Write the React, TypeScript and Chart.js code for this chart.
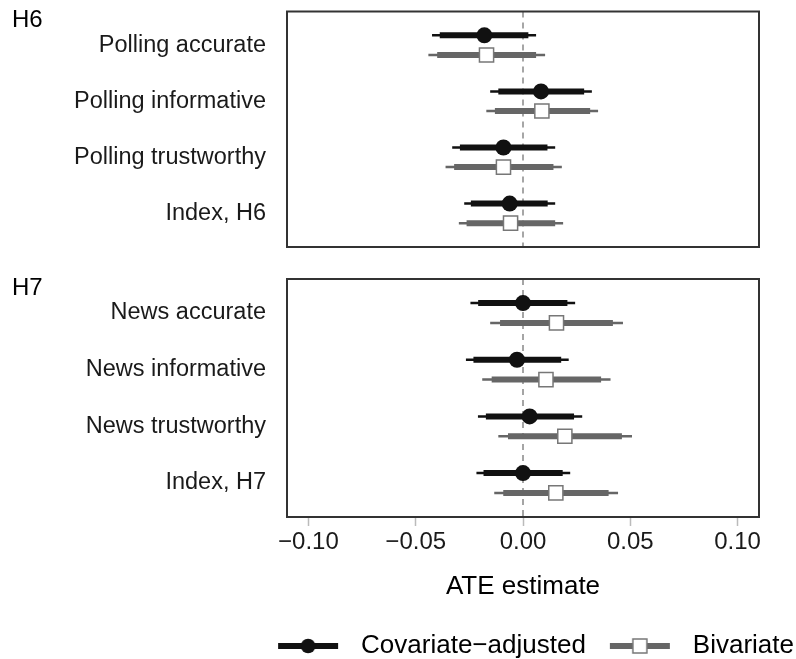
import React, { useEffect, useRef } from "react";
import { Chart, registerables } from "chart.js";
Chart.register(...registerables);

// ---------- data ----------
const tickValues = [-0.1, -0.05, 0, 0.05, 0.1];
const tickLabels = ["\u22120.10", "\u22120.05", "0.00", "0.05", "0.10"];
const xMin = -0.11;
const xMax = 0.11;
const refValue = 0;
const seriesNames = ["Covariate\u2212adjusted", "Bivariate"];
const xTitle = "ATE estimate";

const h6Title = "H6";
const h6Categories = ["Polling accurate", "Polling informative", "Polling trustworthy", "Index, H6"];
const h6CovEst = [-0.018, 0.0084, -0.0091, -0.0062];
const h6CovLo95 = [-0.0424, -0.0153, -0.033, -0.0274];
const h6CovHi95 = [0.0061, 0.0321, 0.015, 0.015];
const h6CovLo90 = [-0.0388, -0.0115, -0.0294, -0.0243];
const h6CovHi90 = [0.0025, 0.0285, 0.0114, 0.0115];
const h6BivEst = [-0.017, 0.0088, -0.0091, -0.0058];
const h6BivLo95 = [-0.0441, -0.0171, -0.0361, -0.0299];
const h6BivHi95 = [0.0103, 0.035, 0.0181, 0.0187];
const h6BivLo90 = [-0.04, -0.0131, -0.0321, -0.0263];
const h6BivHi90 = [0.0061, 0.0313, 0.0142, 0.015];

const h7Title = "H7";
const h7Categories = ["News accurate", "News informative", "News trustworthy", "Index, H7"];
const h7CovEst = [0.0, -0.0028, 0.0031, 0.0];
const h7CovLo95 = [-0.0245, -0.0266, -0.021, -0.0217];
const h7CovHi95 = [0.0243, 0.0213, 0.0276, 0.022];
const h7CovLo90 = [-0.0209, -0.0231, -0.0173, -0.0184];
const h7CovHi90 = [0.0207, 0.0178, 0.0238, 0.0185];
const h7BivEst = [0.0156, 0.0107, 0.0195, 0.0153];
const h7BivLo95 = [-0.0153, -0.019, -0.0115, -0.0134];
const h7BivHi95 = [0.0466, 0.0408, 0.0508, 0.0443];
const h7BivLo90 = [-0.0107, -0.0146, -0.007, -0.0092];
const h7BivHi90 = [0.0419, 0.0364, 0.0461, 0.0399];

// ---------- style ----------
const FONT = "'Liberation Sans', Arial, Helvetica, sans-serif";
const BLACK = "#111111";
const GREY = "#666666";
const SQUARE_EDGE = "#777777";
const Y_MIN = 0.4;
const Y_MAX = 4.6;
const OFFSET = 0.175;

type PanelData = {
  title: string;
  categories: string[];
  covEst: number[]; covLo95: number[]; covHi95: number[]; covLo90: number[]; covHi90: number[];
  bivEst: number[]; bivLo95: number[]; bivHi95: number[]; bivLo90: number[]; bivHi90: number[];
};

const panels: PanelData[] = [
  { title: h6Title, categories: h6Categories, covEst: h6CovEst, covLo95: h6CovLo95, covHi95: h6CovHi95, covLo90: h6CovLo90, covHi90: h6CovHi90, bivEst: h6BivEst, bivLo95: h6BivLo95, bivHi95: h6BivHi95, bivLo90: h6BivLo90, bivHi90: h6BivHi90 },
  { title: h7Title, categories: h7Categories, covEst: h7CovEst, covLo95: h7CovLo95, covHi95: h7CovHi95, covLo90: h7CovLo90, covHi90: h7CovHi90, bivEst: h7BivEst, bivLo95: h7BivLo95, bivHi95: h7BivHi95, bivLo90: h7BivLo90, bivHi90: h7BivHi90 },
];

function segments(lo: number[], hi: number[], off: number) {
  const out: any[] = [];
  lo.forEach((l, i) => {
    const y = i + 1 + off;
    out.push({ x: l, y }, { x: hi[i], y }, { x: null, y: null });
  });
  return out;
}
function points(est: number[], off: number) {
  return est.map((v, i) => ({ x: v, y: i + 1 + off }));
}

const ICON_L = 22, ICON_LEN = 60, ICON_R = 10, ICON_H = 22;
function makeIcon(kind: "cov" | "biv") {
  const c = document.createElement("canvas");
  c.width = ICON_L + ICON_LEN + ICON_R;
  c.height = ICON_H;
  const ctx = c.getContext("2d")!;
  const cy = ICON_H / 2;
  ctx.lineCap = "butt";
  ctx.lineWidth = 6;
  ctx.strokeStyle = kind === "cov" ? BLACK : GREY;
  ctx.beginPath();
  ctx.moveTo(ICON_L, cy);
  ctx.lineTo(ICON_L + ICON_LEN, cy);
  ctx.stroke();
  const cx = ICON_L + ICON_LEN / 2;
  if (kind === "cov") {
    ctx.fillStyle = BLACK;
    ctx.beginPath();
    ctx.arc(cx, cy, 7.3, 0, Math.PI * 2);
    ctx.fill();
  } else {
    ctx.fillStyle = "#ffffff";
    ctx.fillRect(cx - 7, cy - 7, 14, 14);
    ctx.lineWidth = 1.5;
    ctx.strokeStyle = SQUARE_EDGE;
    ctx.strokeRect(cx - 7, cy - 7, 14, 14);
  }
  return c;
}

const framePlugin = {
  id: "frame",
  afterDraw(chart: any) {
    const { ctx, chartArea: a } = chart;
    ctx.save();
    ctx.strokeStyle = "#333333";
    ctx.lineWidth = 2;
    ctx.strokeRect(a.left, a.top, a.right - a.left, a.bottom - a.top);
    const t = chart.options.plugins.panelLabel?.text;
    if (t) {
      ctx.fillStyle = "#000000";
      ctx.font = `24px ${FONT}`;
      ctx.textAlign = "left";
      ctx.textBaseline = "middle";
      ctx.fillText(t, 12, a.top + 9);
    }
    ctx.restore();
  },
};

function noPad(s: any) {
  s.paddingTop = 0;
  s.paddingBottom = 0;
  s.paddingLeft = 0;
  s.paddingRight = 0;
}

function buildConfig(p: PanelData, bottom: boolean): any {
  const datasets: any[] = [
    {
      label: "ref",
      data: [{ x: refValue, y: Y_MIN }, { x: refValue, y: Y_MAX }],
      showLine: true, borderColor: "#888888", borderWidth: 1.5, borderDash: [6, 5],
      pointRadius: 0, order: 10,
    },
    { label: "cov95", data: segments(p.covLo95, p.covHi95, -OFFSET), showLine: true, borderColor: BLACK, borderWidth: 2.5, pointRadius: 0, order: 6, spanGaps: false },
    { label: "cov90", data: segments(p.covLo90, p.covHi90, -OFFSET), showLine: true, borderColor: BLACK, borderWidth: 6, pointRadius: 0, order: 5, spanGaps: false },
    { label: "biv95", data: segments(p.bivLo95, p.bivHi95, OFFSET), showLine: true, borderColor: GREY, borderWidth: 2.5, pointRadius: 0, order: 6, spanGaps: false },
    { label: "biv90", data: segments(p.bivLo90, p.bivHi90, OFFSET), showLine: true, borderColor: GREY, borderWidth: 6, pointRadius: 0, order: 5, spanGaps: false },
    { label: seriesNames[0], data: points(p.covEst, -OFFSET), pointStyle: "circle", pointRadius: 8, backgroundColor: BLACK, borderColor: BLACK, borderWidth: 0, order: 1 },
    { label: seriesNames[1], data: points(p.bivEst, OFFSET), pointStyle: "rect", pointRadius: 10, backgroundColor: "#ffffff", borderColor: SQUARE_EDGE, borderWidth: 1.5, order: 1 },
  ];
  const tickFont = { family: FONT, size: 24 };
  const labelFont = { family: FONT, size: 23.5 };
  const bigFont = { family: FONT, size: 26 };
  const scales: any = {
    x: {
      type: "linear",
      min: xMin,
      max: xMax,
      display: bottom,
      afterBuildTicks: (s: any) => { s.ticks = tickValues.map((v) => ({ value: v })); },
      ticks: { font: tickFont, color: "#1a1a1a", padding: 2, maxRotation: 0, callback: (_v: any, i: number) => tickLabels[i] },
      grid: { display: true, drawOnChartArea: false, drawTicks: true, tickLength: 9, tickColor: "#bbbbbb", tickWidth: 1.5 },
      border: { display: false },
      title: { display: bottom, text: xTitle, font: bigFont, color: "#000000", padding: { top: 0, bottom: 29 } },
      afterFit: (s: any) => { noPad(s); if (bottom) s.height = 114; },
    },
    y: {
      type: "linear",
      min: Y_MIN,
      max: Y_MAX,
      reverse: true,
      position: "left",
      afterBuildTicks: (s: any) => { s.ticks = p.categories.map((_c, i) => ({ value: i + 1 })); },
      ticks: { font: labelFont, color: "#1a1a1a", padding: 21, callback: (_v: any, i: number) => p.categories[i] },
      grid: { display: false, drawTicks: false, tickLength: 0 },
      border: { display: false },
      afterFit: (s: any) => { noPad(s); s.width = 287; },
    },
  };
  if (bottom) {
    scales.yr = {
      type: "linear", position: "right", display: true,
      ticks: { display: false }, grid: { display: false, drawTicks: false, tickLength: 0 }, border: { display: false },
      afterFit: (s: any) => { noPad(s); s.width = 37; },
    };
  }
  return {
    type: "scatter",
    data: { datasets },
    options: {
      responsive: false,
      animation: false,
      devicePixelRatio: 1,
      events: [],
      layout: { padding: bottom ? { top: 19, right: 0, bottom: 0, left: 0 } : { top: 7, right: 37, bottom: 13, left: 0 } },
      scales,
      plugins: {
        tooltip: { enabled: false },
        panelLabel: { text: p.title },
        legend: {
          display: bottom,
          position: "bottom",
          align: "end",
          labels: {
            font: bigFont,
            color: "#000000",
            padding: 2,
            usePointStyle: true,
            pointStyleWidth: ICON_L + ICON_LEN + ICON_R,
            generateLabels: () => [
              { text: seriesNames[0], pointStyle: makeIcon("cov"), fillStyle: BLACK, strokeStyle: BLACK, lineWidth: 0, hidden: false, fontColor: "#000000" },
              { text: seriesNames[1], pointStyle: makeIcon("biv"), fillStyle: GREY, strokeStyle: GREY, lineWidth: 0, hidden: false, fontColor: "#000000" },
            ],
          },
        },
      },
    },
    plugins: [framePlugin],
  };
}

function Panel({ data, bottom, top, height }: { data: PanelData; bottom: boolean; top: number; height: number }) {
  const ref = useRef<HTMLCanvasElement | null>(null);
  useEffect(() => {
    if (!ref.current) return;
    const chart = new Chart(ref.current, buildConfig(data, bottom));
    return () => chart.destroy();
  }, [data, bottom]);
  return (
    <canvas
      ref={ref}
      width={796}
      height={height}
      style={{ position: "absolute", left: 0, top, width: 796, height, display: "block" }}
    />
  );
}

export default function App() {
  return (
    <div style={{ position: "absolute", left: 0, top: 0, width: 796, height: 659, overflow: "hidden", background: "#ffffff" }}>
      <Panel data={panels[0]} bottom={false} top={0} height={260} />
      <Panel data={panels[1]} bottom={true} top={260} height={409} />
    </div>
  );
}
